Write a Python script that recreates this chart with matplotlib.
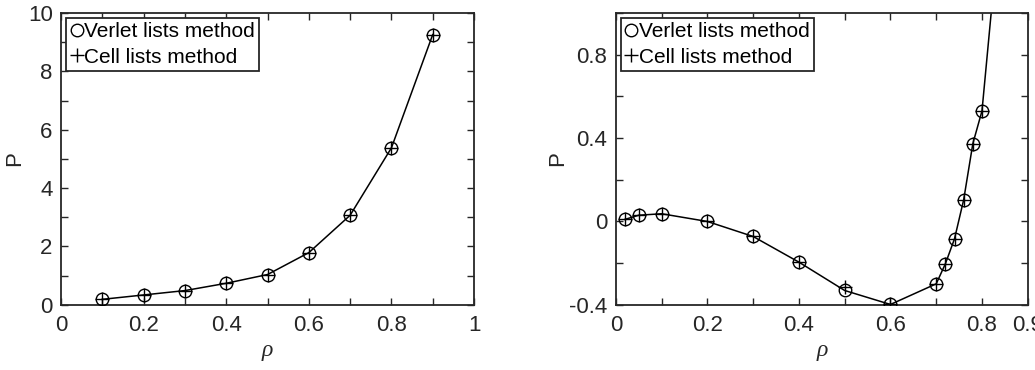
import numpy as np
import matplotlib.pyplot as plt
from matplotlib.lines import Line2D
from matplotlib.ticker import MultipleLocator

# left panel: higher temperature isotherm
rho_a = [0.1, 0.2, 0.3, 0.4, 0.5, 0.6, 0.7, 0.8, 0.9]
p_verlet_a = [0.19, 0.34, 0.49, 0.74, 1.04, 1.79, 3.07, 5.38, 9.26]
p_cell_a = [0.19, 0.34, 0.49, 0.74, 1.04, 1.79, 3.07, 5.38, 9.26]

# right panel: lower temperature isotherm (van der Waals loop)
rho_b = [0.02, 0.05, 0.1, 0.2, 0.3, 0.4, 0.5, 0.6, 0.7, 0.72, 0.74, 0.76, 0.78, 0.8, 0.85]
p_verlet_b = [0.01, 0.03, 0.037, 0.0, -0.072, -0.195, -0.331, -0.398, -0.299,
              -0.203, -0.083, 0.104, 0.373, 0.53, 1.7]
p_cell_b = [0.01, 0.03, 0.037, 0.0, -0.072, -0.195, -0.315, -0.398, -0.299,
            -0.203, -0.083, 0.104, 0.373, 0.53, 1.7]

xticks_a = [0, 0.2, 0.4, 0.6, 0.8, 1]
xlabels_a = ['0', '0.2', '0.4', '0.6', '0.8', '1']
xticks_b = [0, 0.2, 0.4, 0.6, 0.8, 0.9]
xlabels_b = ['0', '0.2', '0.4', '0.6', '0.8', '0.9']
yticks_b = [-0.4, 0, 0.4, 0.8]
ylabels_b = ['-0.4', '0', '0.4', '0.8']

plt.rcParams['font.family'] = ['Liberation Sans', 'DejaVu Sans']
tick_col = '#262626'
fs = 16

fig = plt.figure(figsize=(10.35, 3.7), dpi=100)
ax1 = fig.add_axes([0.059, 0.176, 0.399, 0.789])
ax2 = fig.add_axes([0.595, 0.176, 0.398, 0.789])


def draw_panel(ax, rho, pv, pc, ylab_x):
    ax.plot(rho, pv, '-', color='black', lw=1.1, zorder=2)
    ax.plot(rho, pv, 'o', mfc='none', mec='black', ms=9, mew=1.0, zorder=3)
    ax.plot(rho, pc, '+', color='black', ms=9.5, mew=1.0, zorder=3)
    for s in ax.spines.values():
        s.set_linewidth(1.3)
        s.set_color(tick_col)
    ax.tick_params(which='both', direction='in', top=True, right=True,
                   labelsize=fs, labelcolor=tick_col, color=tick_col, width=1.0,
                   length=5)
    ax.tick_params(axis='x', pad=7)
    ax.tick_params(axis='y', pad=6)
    ax.set_ylabel('P', fontsize=fs, color=tick_col)
    ax.yaxis.set_label_coords(ylab_x, 0.5)
    ax.set_xlabel('ρ', fontsize=17, family='Liberation Serif',
                  style='italic', color=tick_col, labelpad=3)
    handles = [Line2D([], [], ls='none', marker='o', mfc='none', mec='black', ms=9, mew=1.0),
               Line2D([], [], ls='none', marker='+', color='black', ms=9.5, mew=1.0)]
    leg = ax.legend(handles, ['Verlet lists method', 'Cell lists method'],
                    loc='upper left', fontsize=15, handlelength=0.6,
                    handletextpad=0.05, borderpad=0.2, labelspacing=0.3,
                    borderaxespad=0.25, fancybox=False, framealpha=1,
                    edgecolor=tick_col)
    leg.get_frame().set_linewidth(1.3)


draw_panel(ax1, rho_a, p_verlet_a, p_cell_a, -0.086)
ax1.set_xlim(0, 1)
ax1.set_ylim(0, 10)
ax1.set_xticks(xticks_a)
ax1.set_xticklabels(xlabels_a)
ax1.xaxis.set_minor_locator(MultipleLocator(0.1))
ax1.yaxis.set_major_locator(MultipleLocator(2))
ax1.yaxis.set_minor_locator(MultipleLocator(1))

draw_panel(ax2, rho_b, p_verlet_b, p_cell_b, -0.116)
ax2.set_xlim(0, 0.9)
ax2.set_ylim(-0.4, 1.0)
ax2.set_xticks(xticks_b)
ax2.set_xticklabels(xlabels_b)
ax2.xaxis.set_minor_locator(MultipleLocator(0.1))
ax2.set_yticks(yticks_b)
ax2.set_yticklabels(ylabels_b)
ax2.yaxis.set_minor_locator(MultipleLocator(0.2))

fig.savefig('out.png', dpi=100)
